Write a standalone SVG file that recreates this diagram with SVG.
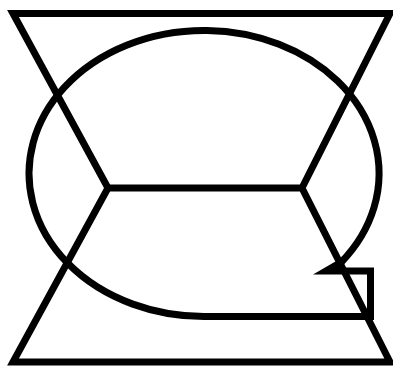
<svg xmlns="http://www.w3.org/2000/svg" width="393" height="366" viewBox="0 0 393 366">
<style>.s{fill:none;stroke:#000;stroke-width:7;stroke-linejoin:miter;stroke-miterlimit:10}</style>
<rect width="393" height="366" fill="#fff"/>
<g id="hourglass"><path class="s" d="M13 13.5 L390 13.5 L302 188 L390 362 L13 362 L108 188 Z M108 188 L302 188"/></g>
<g id="blob"><path class="s" d="M205 316.5 A175 143 0 1 1 341.5 262 L326 271 L370.5 271 L370.5 316.5 Z"/></g>
</svg>
